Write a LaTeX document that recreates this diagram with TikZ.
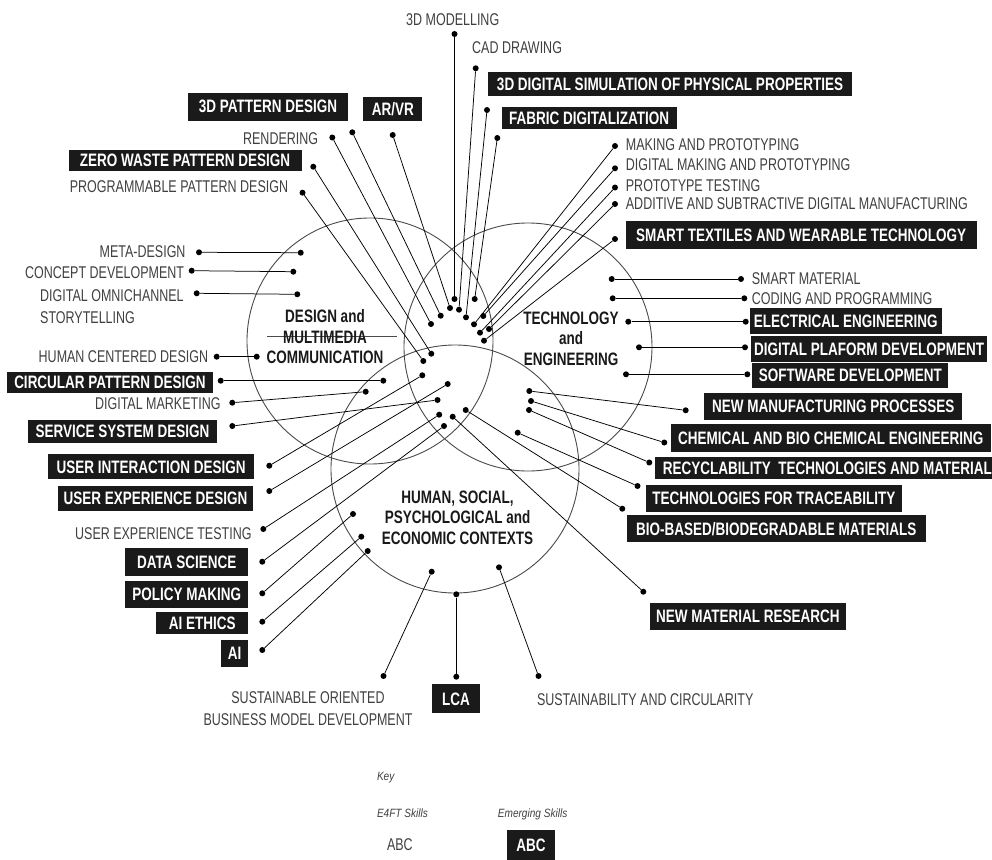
\documentclass[tikz,border=0pt]{standalone}
\usepackage{fontspec}
\newfontfamily\rfont[FakeStretch=0.735]{Liberation Sans}
\newfontfamily\bfam[FakeStretch=0.75]{Liberation Sans}
\newfontfamily\kfont[FakeStretch=0.84]{Liberation Sans}
\definecolor{boxc}{HTML}{1A1A1A}
\definecolor{txtc}{HTML}{404040}
\definecolor{circc}{HTML}{4A4A4A}
\begin{document}
\begin{tikzpicture}[x=1pt,y=-1pt,
  dotn/.style={circle,fill=black,inner sep=0pt,minimum size=6pt},
  conn/.style={line width=0.75pt,black},
  circ/.style={draw=circc,line width=0.9pt,circle,inner sep=0pt},
  rtext/.style={font=\rfont\fontsize{17}{21.5}\selectfont,text=txtc,inner sep=0pt},
  sbox/.style={fill=boxc,text=white,font=\bfam\bfseries\fontsize{18}{20}\selectfont,inner xsep=2pt,inner ysep=0pt},
  bx/.style 2 args={sbox,minimum width=#1,minimum height=#2},
  ctext/.style={font=\bfam\bfseries\fontsize{18}{20.5}\selectfont,align=center,text=black!90,inner sep=0pt},
  ktext/.style={font=\kfont\itshape\fontsize{12}{14}\selectfont,text=txtc,inner sep=0pt,anchor=west}]
\useasboundingbox (0,0) rectangle (992,859);

% circles
\node[circ,minimum size=246pt] (design) at (370,341) {};
\node[circ,minimum size=248pt] (tech) at (528,347) {};
\node[circ,minimum size=248pt] (human) at (455,469) {};
\coordinate (mmL) at (267,336);
\coordinate (mmR) at (397,336);
\draw[draw=circc,line width=0.8pt] (mmL) -- (mmR);

% centre labels
\node[ctext] (lDesign) at (325,337) {DESIGN and\\MULTIMEDIA\\COMMUNICATION};
\node[ctext] (lTech) at (571,338.5) {TECHNOLOGY\\and\\ENGINEERING};
\node[ctext] (lHuman) at (457.5,517.6) {HUMAN, SOCIAL,\\PSYCHOLOGICAL and\\ECONOMIC CONTEXTS};

% inner dots
\node[dotn] (iA) at (454.5,299) {};
\node[dotn] (iB) at (474.7,299) {};
\node[dotn] (iC) at (450,308) {};
\node[dotn] (iD) at (459,309.7) {};
\node[dotn] (iE) at (440.7,315.7) {};
\node[dotn] (iF) at (466,317.3) {};
\node[dotn] (iG) at (431,324) {};
\node[dotn] (iH) at (483.3,316) {};
\node[dotn] (iI) at (474,324.3) {};
\node[dotn] (iJ) at (489,329) {};
\node[dotn] (iK) at (480,332.7) {};
\node[dotn] (iL) at (484,340.7) {};
\node[dotn] (iM) at (431.3,353.7) {};
\node[dotn] (iN) at (423.3,361) {};
\node[dotn] (iO) at (422.3,375.3) {};
\node[dotn] (iP) at (447.7,384) {};
\node[dotn] (iQ) at (437.5,400) {};
\node[dotn] (iR) at (465.7,410) {};
\node[dotn] (iS) at (439.2,414.7) {};
\node[dotn] (iT) at (452.7,416.7) {};
\node[dotn] (iU) at (444,426) {};

% top outer dots
\node[dotn] (d3dmod) at (454.5,34) {};
\node[dotn] (dcad) at (475.7,68.3) {};
\node[dotn] (d3dsim) at (487,110) {};
\node[dotn] (dfab) at (497.3,138) {};
\node[dotn] (darvr) at (392.7,135) {};
\node[dotn] (d3dpat) at (352.3,132.3) {};
\node[dotn] (drend) at (332.3,137.5) {};
\node[dotn] (dzero) at (313.3,166.7) {};
\node[dotn] (dprog) at (302.5,192.7) {};
\node[dotn] (dmak) at (615,146) {};
\node[dotn] (ddmak) at (615,168.3) {};
\node[dotn] (dproto) at (615,187.5) {};
\node[dotn] (dadd) at (615,204) {};
\node[dotn] (dstex) at (615,239) {};

% right middle dots
\node[dotn] (iSM) at (611.7,279) {}; \node[dotn] (dSM) at (741,279) {};
\node[dotn] (iCP) at (612.7,298.3) {}; \node[dotn] (dCP) at (744.3,298.3) {};
\node[dotn] (iEE) at (628.3,321.7) {}; \node[dotn] (dEE) at (745.7,321.7) {};
\node[dotn] (iDP) at (639,347.3) {}; \node[dotn] (dDP) at (745,347.3) {};
\node[dotn] (iSD) at (626,374.3) {}; \node[dotn] (dSD) at (747.3,374.3) {};
\node[dotn] (iNM) at (529.3,391) {}; \node[dotn] (dNM) at (685.7,410.3) {};
\node[dotn] (iCH) at (531,401) {}; \node[dotn] (dCH) at (664.3,442.5) {};
\node[dotn] (iRC) at (529,410) {}; \node[dotn] (dRC) at (649.3,462.5) {};
\node[dotn] (iTT) at (517.7,432.7) {}; \node[dotn] (dTT) at (637.5,486) {};
\node[dotn] (dBB) at (622.3,508.7) {};
\node[dotn] (dNR) at (643.3,591.7) {};

% left dots
\node[dotn] (dMD) at (199,252.3) {}; \node[dotn] (iMD) at (300.7,252.7) {};
\node[dotn] (dCD) at (191.7,270.7) {}; \node[dotn] (iCD) at (293.3,271.7) {};
\node[dotn] (dDO) at (196.7,293.3) {}; \node[dotn] (iDO) at (297.3,294.3) {};
\node[dotn] (dHC) at (216.7,356.7) {}; \node[dotn] (iHC) at (256.7,356.7) {};
\node[dotn] (dCR) at (220.7,380.7) {}; \node[dotn] (iCR) at (383.3,380.7) {};
\node[dotn] (dDM) at (232.3,402.7) {}; \node[dotn] (iDM) at (365.7,391.7) {};
\node[dotn] (dSS) at (232.3,426) {};
\node[dotn] (dUI) at (269.3,465.7) {};
\node[dotn] (dUX) at (269.3,491) {};
\node[dotn] (dUT) at (263.3,529) {};
\node[dotn] (dDS) at (262.3,561.7) {};
\node[dotn] (dPM) at (262.3,593.3) {}; \node[dotn] (iPM) at (353,514) {};
\node[dotn] (dAE) at (262.3,621.7) {}; \node[dotn] (iAE) at (361.3,536.7) {};
\node[dotn] (dAI) at (262.3,650) {}; \node[dotn] (iAI) at (367.7,551) {};

% bottom dots
\node[dotn] (dSO) at (383.5,676) {}; \node[dotn] (iSO) at (431.7,571.7) {};
\node[dotn] (dLCA) at (456.3,676.7) {}; \node[dotn] (iLCA) at (456.3,594.3) {};
\node[dotn] (dSC) at (538.5,676) {}; \node[dotn] (iSC) at (499,567.3) {};

% connectors
\draw[conn] (d3dmod) -- (iA);
\draw[conn] (dcad) -- (iD);
\draw[conn] (d3dsim) -- (iF);
\draw[conn] (dfab) -- (iB);
\draw[conn] (darvr) -- (iC);
\draw[conn] (d3dpat) -- (iE);
\draw[conn] (drend) -- (iG);
\draw[conn] (dzero) -- (iM);
\draw[conn] (dprog) -- (iN);
\draw[conn] (dmak) -- (iI);
\draw[conn] (ddmak) -- (iH);
\draw[conn] (dproto) -- (iK);
\draw[conn] (dadd) -- (iJ);
\draw[conn] (dstex) -- (iL);
\draw[conn] (iSM) -- (dSM);
\draw[conn] (iCP) -- (dCP);
\draw[conn] (iEE) -- (dEE);
\draw[conn] (iDP) -- (dDP);
\draw[conn] (iSD) -- (dSD);
\draw[conn] (iNM) -- (dNM);
\draw[conn] (iCH) -- (dCH);
\draw[conn] (iRC) -- (dRC);
\draw[conn] (iTT) -- (dTT);
\draw[conn] (iR) -- (dBB);
\draw[conn] (iT) -- (dNR);
\draw[conn] (dMD) -- (iMD);
\draw[conn] (dCD) -- (iCD);
\draw[conn] (dDO) -- (iDO);
\draw[conn] (dHC) -- (iHC);
\draw[conn] (dCR) -- (iCR);
\draw[conn] (dDM) -- (iDM);
\draw[conn] (dSS) -- (iQ);
\draw[conn] (dUI) -- (iO);
\draw[conn] (dUX) -- (iP);
\draw[conn] (dUT) -- (iS);
\draw[conn] (dDS) -- (iU);
\draw[conn] (dPM) -- (iPM);
\draw[conn] (dAE) -- (iAE);
\draw[conn] (dAI) -- (iAI);
\draw[conn] (dSO) -- (iSO);
\draw[conn] (dLCA) -- (iLCA);
\draw[conn] (dSC) -- (iSC);

% regular labels
\node[rtext,anchor=west] (t3dmod) at (406,19.5) {3D MODELLING};
\node[rtext,anchor=west] (tcad) at (472,48) {CAD DRAWING};
\node[rtext,anchor=east] (trend) at (318.3,138.3) {RENDERING};
\node[rtext,anchor=east] (tprog) at (288.3,186.7) {PROGRAMMABLE PATTERN DESIGN};
\node[rtext,anchor=west] (tmak) at (625.7,145) {MAKING AND PROTOTYPING};
\node[rtext,anchor=west] (tdmak) at (625.7,165) {DIGITAL MAKING AND PROTOTYPING};
\node[rtext,anchor=west] (tproto) at (625.7,186) {PROTOTYPE TESTING};
\node[rtext,anchor=west] (tadd) at (625.7,203.3) {ADDITIVE AND SUBTRACTIVE DIGITAL MANUFACTURING};
\node[rtext,anchor=west] (tSM) at (751.7,279) {SMART MATERIAL};
\node[rtext,anchor=west] (tCP) at (751.7,298.3) {CODING AND PROGRAMMING};
\node[rtext,anchor=east] (tMD) at (185.7,251.7) {META-DESIGN};
\node[rtext,anchor=east] (tCD) at (184.3,272.3) {CONCEPT DEVELOPMENT};
\node[rtext,anchor=west,align=left] (tDO) at (40,306.5) {DIGITAL OMNICHANNEL\\STORYTELLING};
\node[rtext,anchor=east] (tHC) at (208.3,356.7) {HUMAN CENTERED DESIGN};
\node[rtext,anchor=east] (tDM) at (220.7,403.3) {DIGITAL MARKETING};
\node[rtext,anchor=east] (tUT) at (251.7,533.3) {USER EXPERIENCE TESTING};
\node[rtext,align=center] (tSO) at (308,708.7) {SUSTAINABLE ORIENTED\\BUSINESS MODEL DEVELOPMENT};
\node[rtext,anchor=west] (tSC) at (536.8,699.3) {SUSTAINABILITY AND CIRCULARITY};

% emerging skill boxes
\node[bx={364pt}{23.7pt}] (b3dsim) at (670,84.2) {3D DIGITAL SIMULATION OF PHYSICAL PROPERTIES};
\node[bx={175pt}{22pt}] (bfab) at (589.2,118.3) {FABRIC DIGITALIZATION};
\node[bx={159.4pt}{28.3pt}] (b3dpat) at (268,106.8) {3D PATTERN DESIGN};
\node[bx={59pt}{24pt}] (barvr) at (392.8,108.7) {AR/VR};
\node[bx={233pt}{21pt}] (bzero) at (185,160.7) {ZERO WASTE PATTERN DESIGN};
\node[bx={351pt}{28.6pt}] (bstex) at (801.2,235) {SMART TEXTILES AND WEARABLE TECHNOLOGY};
\node[bx={191.7pt}{26.3pt}] (bEE) at (845.8,320.8) {ELECTRICAL ENGINEERING};
\node[bx={236.6pt}{25.7pt}] (bDP) at (869,348.8) {DIGITAL PLAFORM DEVELOPMENT};
\node[bx={196pt}{24.4pt}] (bSD) at (850.3,375.5) {SOFTWARE DEVELOPMENT};
\node[bx={258pt}{26.7pt}] (bNM) at (833.3,406.7) {NEW MANUFACTURING PROCESSES};
\node[bx={320pt}{27.4pt}] (bCH) at (830.7,438) {CHEMICAL AND BIO CHEMICAL ENGINEERING};
\node[sbox,anchor=west,inner xsep=8pt,minimum height=22.3pt] (bRC) at (654.7,467.8) {RECYCLABILITY~ TECHNOLOGIES AND MATERIAL};
\node[bx={255.7pt}{26.7pt}] (bTT) at (773.8,498.3) {TECHNOLOGIES FOR TRACEABILITY};
\node[bx={299pt}{27.3pt}] (bBB) at (776.2,528.7) {BIO-BASED/BIODEGRADABLE MATERIALS};
\node[bx={195.7pt}{26.7pt}] (bNR) at (747.8,616.7) {NEW MATERIAL RESEARCH};
\node[bx={206.6pt}{21.6pt}] (bCR) at (110,382.5) {CIRCULAR PATTERN DESIGN};
\node[bx={189.6pt}{22.7pt}] (bSS) at (122.5,431.3) {SERVICE SYSTEM DESIGN};
\node[bx={205.7pt}{25pt}] (bUI) at (151.2,466.8) {USER INTERACTION DESIGN};
\node[bx={195.6pt}{24.7pt}] (bUX) at (155.5,498.3) {USER EXPERIENCE DESIGN};
\node[bx={123.3pt}{27.4pt}] (bDS) at (186.7,562) {DATA SCIENCE};
\node[bx={123.3pt}{27pt}] (bPM) at (186.7,594.2) {POLICY MAKING};
\node[bx={92.3pt}{22pt}] (bAE) at (202.2,623.3) {AI ETHICS};
\node[bx={27.3pt}{26.7pt}] (bAI) at (234.7,653.3) {AI};
\node[bx={47.5pt}{29pt}] (bLCA) at (456,698.8) {LCA};

% key
\node[ktext] (key) at (376.8,777.7) {Key};
\node[ktext] (ke4) at (376.8,813.3) {E4FT Skills};
\node[ktext] (kem) at (497.7,814.3) {Emerging Skills};
\node[rtext,anchor=west] (kabc) at (386.8,845) {ABC};
\node[bx={47.5pt}{30pt}] (kbox) at (531,845) {ABC};
\end{tikzpicture}
\end{document}
